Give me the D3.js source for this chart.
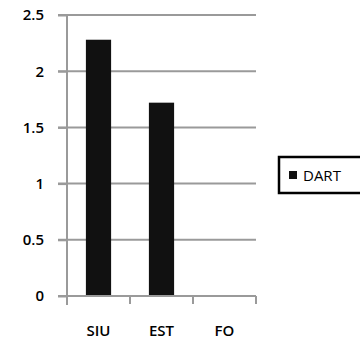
<!DOCTYPE html>
<html>
<head>
<meta charset="utf-8">
<script src="https://cdn.jsdelivr.net/npm/d3@7"></script>
<style>
  body { margin: 0; background: #fff; }
  text { font-family: "Open Sans", "Liberation Sans", sans-serif; }
</style>
</head>
<body>
<div id="chart"></div>
<script>
// data
let categories = ["SIU", "EST", "FO"];
let dartValues = [2.28, 1.72, 0];
let yTicks = [0, 0.5, 1, 1.5, 2, 2.5];
let seriesName = "DART";

let w = 360, h = 343;
let margin = {top: 15, right: 104, bottom: 47, left: 67};
let width = w - margin.left - margin.right,
    height = h - margin.top - margin.bottom;

let svg = d3.select("#chart").append("svg")
    .attr("width", w)
    .attr("height", h);

let viz = svg.append("g")
    .attr("transform", "translate(" + margin.left + "," + margin.top + ")");

let xScale = d3.scaleBand()
    .domain(categories)
    .range([0, width])
    .paddingInner(0.6)
    .paddingOuter(0.3);

// band for ticks (no padding)
let xBand = d3.scaleBand().domain(categories).range([0, width]);

let yScale = d3.scaleLinear()
    .domain([0, 2.5])
    .range([height, 0]);

// gridlines
viz.append("g").attr("class", "grid")
  .selectAll("line").data(yTicks.filter(d => d > 0)).enter()
  .append("line")
    .attr("x1", -9).attr("x2", width)
    .attr("y1", d => yScale(d)).attr("y2", d => yScale(d))
    .attr("stroke", "#9a9a9a").attr("stroke-width", 2);

// bars
viz.selectAll(".bar").data(dartValues).enter()
  .append("rect")
    .attr("class", "bar")
    .attr("x", (d, i) => xScale(categories[i]))
    .attr("width", xScale.bandwidth())
    .attr("y", d => yScale(d))
    .attr("height", d => height - yScale(d))
    .attr("fill", "#111");

// y axis
let yAxis = d3.axisLeft(yScale).tickValues(yTicks).tickSize(9).tickPadding(14)
    .tickFormat(d => d);
let yAxisGroup = viz.append("g").call(yAxis);
yAxisGroup.select(".domain").attr("stroke", "#9a9a9a").attr("stroke-width", 2)
    .attr("d", "M0,0V" + (height + 9));
yAxisGroup.selectAll(".tick line").attr("stroke", "#9a9a9a").attr("stroke-width", 2);
yAxisGroup.selectAll("text").attr("font-size", 15).attr("font-weight", 600).attr("fill", "#000");

// x axis
let xAxisGroup = viz.append("g").attr("transform", "translate(0," + height + ")");
xAxisGroup.append("line")
    .attr("x1", -9).attr("x2", width)
    .attr("stroke", "#9a9a9a").attr("stroke-width", 2);
xAxisGroup.selectAll(".xtick").data(categories.concat(["end"])).enter()
  .append("line")
    .attr("x1", (d, i) => i < categories.length ? xBand(d) : width)
    .attr("x2", (d, i) => i < categories.length ? xBand(d) : width)
    .attr("y1", 0).attr("y2", 8)
    .attr("stroke", "#9a9a9a").attr("stroke-width", 2);
xAxisGroup.selectAll(".xlabel").data(categories).enter()
  .append("text")
    .attr("x", d => xBand(d) + xBand.bandwidth() / 2)
    .attr("y", 40)
    .attr("text-anchor", "middle")
    .attr("font-size", 15).attr("font-weight", 600)
    .text(d => d);

// legend
let legend = svg.append("g").attr("transform", "translate(279,157)");
legend.append("rect")
    .attr("width", 90).attr("height", 36)
    .attr("fill", "#fff").attr("stroke", "#000").attr("stroke-width", 2.5);
legend.append("rect")
    .attr("x", 10).attr("y", 14).attr("width", 8).attr("height", 8)
    .attr("fill", "#111");
legend.append("text")
    .attr("x", 24).attr("y", 24)
    .attr("font-size", 15)
    .text(seriesName);
</script>
</body>
</html>
